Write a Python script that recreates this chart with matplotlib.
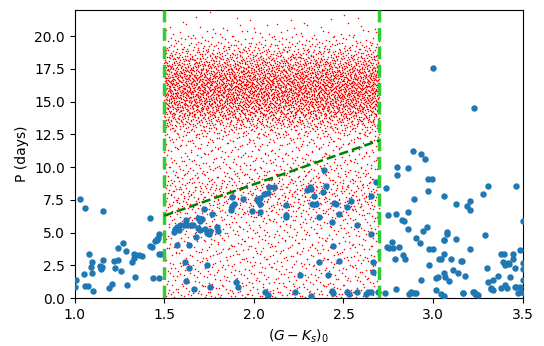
"""Period vs colour: red cloud inside the colour window, blue stars, cut lines."""

import matplotlib
matplotlib.use("Agg")
import matplotlib.pyplot as plt
import numpy as np

# Blue sample.
blue_x = [
    1.00, 1.01, 1.03, 1.06, 1.157, 1.42, 1.47, 1.46, 1.45, 1.42, 1.43, 1.47, 1.48,
    1.27, 1.24, 1.285, 1.33, 1.34, 1.36, 1.375, 1.33, 1.32, 1.22, 1.24, 1.225, 1.26,
    1.08, 1.10, 1.157, 1.09, 1.14, 1.145, 1.155, 1.15, 1.054, 1.10, 1.06, 1.075,
    1.105, 1.19, 1.21, 1.295, 1.34, 1.437, 1.47, 1.459, 1.468,
    2.078, 2.037, 2.022, 2.037, 1.94, 1.878, 1.887, 1.878, 1.872, 1.99, 2.037, 1.72,
    1.766, 1.69, 1.70, 1.71, 1.622, 1.555, 1.56, 1.57, 1.59, 1.61, 1.63, 1.65, 1.66,
    1.58, 1.686, 1.697, 1.73, 1.74, 1.757, 1.75, 1.794, 1.798, 1.678, 1.57, 1.636,
    1.617, 1.636, 1.738, 1.623, 1.667, 1.757, 1.90, 1.91, 2.06, 2.08, 2.018, 2.055,
    2.115, 2.294, 2.313, 2.32, 2.40, 2.386, 2.335, 2.345, 2.326, 2.177, 2.18, 2.177,
    2.364, 2.447, 2.457, 2.518, 2.54, 2.475, 2.438, 2.574, 2.653, 2.68, 2.656, 2.44,
    2.363, 2.475, 2.662, 2.257, 2.414, 2.662, 2.227, 2.317, 2.438, 2.44, 2.518,
    2.531, 2.574, 2.625, 2.638, 2.653, 2.69, 2.391, 2.083,
    2.736, 2.80, 2.80, 2.862, 2.889, 2.935, 2.957, 2.973, 2.992, 2.973, 3.062, 3.128,
    2.895, 2.746, 2.791, 2.858, 2.825, 2.836, 2.861, 2.942, 2.966, 3.077, 3.078,
    3.063, 2.77, 2.742, 2.756, 2.774, 2.808, 2.905, 2.929, 2.979, 2.998, 3.062,
    3.059, 2.845, 2.83, 2.79, 3.03, 3.045, 3.10, 3.157, 2.979, 3.112, 3.138, 3.175,
    3.063, 3.067, 3.026, 3.017, 3.091, 2.933, 3.017, 3.045, 3.06, 2.793, 2.731,
    2.876, 2.864, 2.895, 2.905, 3.166, 3.226, 3.235, 3.25, 3.165, 3.223, 3.24,
    3.002, 3.228,
    3.306, 3.464, 3.278, 3.203, 3.19, 3.203, 3.13, 3.287, 3.204, 3.16, 3.30,
    3.38, 3.39, 3.423, 3.459, 3.427, 3.362, 3.334, 3.306, 3.32, 3.38, 3.46, 3.474,
    3.446, 3.483, 3.395, 3.445, 3.40, 3.41, 3.454, 3.482, 3.492, 3.507, 3.50, 3.50,
    3.50, 3.50, 3.324, 3.333, 3.40, 3.415,
]
blue_y = [
    0.85, 1.42, 7.59, 6.86, 6.68, 6.15, 4.93, 4.50, 4.40, 3.97, 3.90, 3.34, 3.34,
    4.25, 3.85, 3.62, 3.36, 3.29, 3.29, 3.21, 3.04, 2.73, 2.83, 2.90, 2.28, 2.10,
    3.34, 2.78, 2.90, 2.40, 2.45, 2.30, 2.40, 2.20, 1.82, 1.90, 0.91, 0.91,
    0.58, 0.80, 1.09, 1.01, 1.62, 1.52, 1.52, 4.43, 4.63,
    8.05, 7.64, 7.39, 7.21, 7.59, 7.72, 7.21, 7.03, 6.70, 6.63, 6.58, 6.83,
    6.45, 6.10, 5.90, 6.05, 5.95, 5.06, 5.25, 5.44, 5.57, 5.60, 5.60, 5.62, 5.60,
    5.20, 5.36, 5.19, 5.30, 5.00, 5.15, 4.90, 5.44, 5.11, 4.68, 4.05, 4.05,
    2.73, 2.33, 2.53, 1.31, 0.70, 0.83, 1.21, 0.83, 0.45, 0.25, 7.59, 7.97,
    8.48, 8.30, 8.48, 8.35, 8.60, 8.10, 7.84, 7.21, 7.21, 7.08, 6.33, 6.20,
    6.20, 7.29, 7.21, 6.96, 7.46, 6.45, 5.82, 5.62, 7.79, 8.90, 4.93, 3.97,
    2.78, 2.83, 2.73, 1.77, 1.77, 1.97, 0.50, 0.20, 0.55, 0.38, 0.50,
    0.30, 0.50, 0.35, 0.45, 0.50, 0.45, 9.82, 8.47,
    8.40, 10.0, 9.41, 9.92, 11.21, 11.0, 10.6, 9.11, 9.11, 8.17, 7.77, 7.16,
    7.59, 6.33, 6.45, 6.55, 6.00, 5.87, 5.31, 5.13, 5.44, 5.06, 4.88,
    4.43, 4.30, 3.92, 3.87, 3.87, 3.92, 4.63, 4.22, 3.79, 3.79, 4.48,
    3.41, 3.03, 3.29, 3.03, 3.03, 3.03, 2.96, 2.86, 2.53, 2.15, 1.90, 1.69,
    1.90, 1.64, 1.64, 1.52, 1.31, 1.39, 0.63, 0.33, 0.20, 0.68, 0.38,
    0.50, 0.33, 0.38, 0.43, 0.38, 0.50, 0.33, 0.25, 0.38, 0.50, 0.33,
    17.56, 14.53,
    8.60, 8.60, 7.92, 7.46, 7.01, 6.76, 4.55, 4.86, 3.74, 2.83, 2.33,
    3.41, 2.78, 2.65, 2.28, 1.64, 1.69, 1.39, 1.26, 0.76, 0.76, 0.83, 0.38,
    3.36, 3.72, 3.36, 3.03, 1.00, 0.76, 0.83, 0.88, 0.50, 0.38, 2.70, 2.20,
    1.39, 5.90, 0.68, 0.63, 2.50, 2.70,
]

# Red cloud: number of dots per half-day period bin (0-0.5, 0.5-1, ... 21.5-22),
# counted roughly off the picture; spread evenly over the colour window.
red_window = [1.5, 2.7]
red_bin_width = 0.5
red_bin_counts = [
    80, 60, 55, 55, 55, 55, 55, 55, 55, 55, 55, 55,          # 0 - 6
    70, 85, 100, 105, 105, 95, 80, 70,                      # 6 - 10
    60, 55, 55, 60, 75, 110,                                 # 10 - 13
    170, 240, 300, 360, 400, 420, 420, 400, 350, 290,        # 13 - 18
    220, 150, 95, 55, 30, 15, 8, 3,                          # 18 - 22
]

# Cut lines.
cut_x = [1.5, 2.7]
slope_x = [1.5, 2.7]
slope_y = [6.3, 12.05]


def halton(i, base):
    f, r = 1.0, 0.0
    while i > 0:
        f /= base
        r += f * (i % base)
        i //= base
    return r


def spread_bins(window, width, counts):
    """Lay each bin's dots out evenly (Halton points) inside its cell."""
    xs, ys = [], []
    k = 1
    for b, n in enumerate(counts):
        for _ in range(n):
            xs.append(window[0] + (window[1] - window[0]) * halton(k, 2))
            ys.append(width * (b + halton(k, 3)))
            k += 1
    return np.array(xs), np.array(ys)


fig, ax = plt.subplots(figsize=(5.44, 3.46), dpi=100)
fig.subplots_adjust(left=0.137, right=0.961, bottom=0.138, top=0.971)

red_x, red_y = spread_bins(red_window, red_bin_width, red_bin_counts)
ax.scatter(red_x, red_y, s=1.2, c="red", marker="o", linewidths=0, zorder=2)
ax.scatter(blue_x, blue_y, s=13, c="C0", zorder=3)

for xv in cut_x:
    ax.axvline(xv, color="#33cc33", linestyle="--", linewidth=2.5, zorder=4)
ax.plot(slope_x, slope_y, color="green", linestyle="--", linewidth=1.8, zorder=4)

ax.set_xlim(1.0, 3.5)
ax.set_ylim(0, 22)
ax.set_xticks([1.0, 1.5, 2.0, 2.5, 3.0, 3.5])
ax.set_yticks([0, 2.5, 5, 7.5, 10, 12.5, 15, 17.5, 20])
ax.set_yticklabels([f"{v:.1f}" for v in [0, 2.5, 5, 7.5, 10, 12.5, 15, 17.5, 20]])
ax.set_xlabel("$(G-K_s)_0$")
ax.set_ylabel("P (days)")

fig.savefig("out.png", dpi=100)
plt.close(fig)
